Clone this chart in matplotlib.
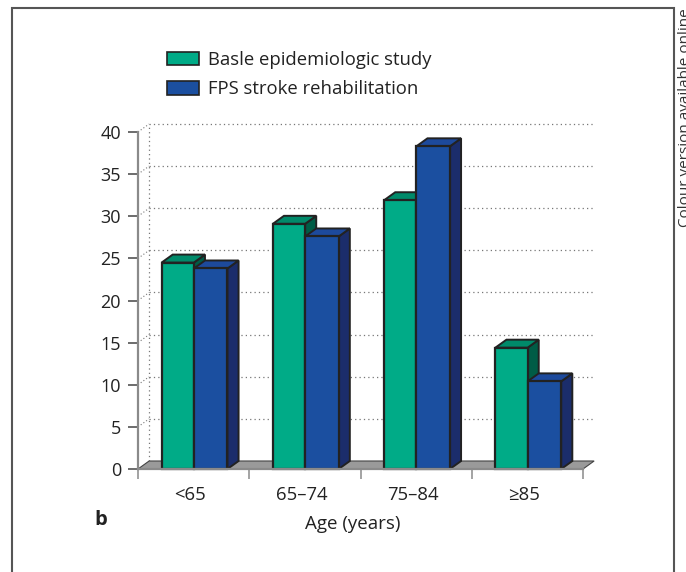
import matplotlib
matplotlib.use("Agg")
import matplotlib.pyplot as plt
from matplotlib.patches import Patch, Rectangle

# data
age_groups = ["<65", "65\u201374", "75\u201384", "\u226585"]
basle = [24.5, 29.1, 31.9, 14.4]
fps = [23.8, 27.6, 38.3, 10.4]
series_names = ["Basle epidemiologic study", "FPS stroke rehabilitation"]
y_ticks = [0, 5, 10, 15, 20, 25, 30, 35, 40]

# faces: front, top, side
GREEN = ("#00AB87", "#008A6A", "#005C46")
BLUE = ("#1B4FA0", "#1D4A9C", "#1B2D6B")
EDGE = "#222222"

plt.rcParams["font.family"] = ["Open Sans", "DejaVu Sans"]

W, H = 686, 572
fig = plt.figure(figsize=(W / 100, H / 100), dpi=100)
ax = fig.add_axes([138 / W, 1 - 469 / H, (583 - 138) / W, (469 - 132) / H])
ax.set_xlim(0, 4)
ax.set_ylim(0, 40)

# depth of the pseudo-3D box in data units
dx, dy = 0.1, 0.95
ymax = y_ticks[-1]
ncat = len(age_groups)

# back wall grid
for v in y_ticks[1:]:
    ax.plot([dx, ncat + dx], [v + dy, v + dy], ls=(0, (1, 2.5)), color="#777777",
            lw=0.9, clip_on=False, zorder=1)
    ax.plot([0, dx], [v, v + dy], ls=(0, (1, 2)), color="#777777", lw=0.8,
            clip_on=False, zorder=1)
ax.plot([dx, dx], [dy, ymax + dy], ls=(0, (1, 2.5)), color="#777777", lw=0.9,
        clip_on=False, zorder=1)

# floor
ax.fill([0, ncat, ncat + dx, dx], [0, 0, dy, dy], facecolor="#9A9A9A",
        edgecolor="#444444", lw=0.8, clip_on=False, zorder=2)


def draw_bar(x0, w, h, faces, z):
    front, top, side = faces
    x1 = x0 + w
    ax.fill([x1, x1 + dx, x1 + dx, x1], [0, dy, h + dy, h], facecolor=side,
            edgecolor=EDGE, lw=1.4, clip_on=False, zorder=z)
    ax.fill([x0, x1, x1 + dx, x0 + dx], [h, h, h + dy, h + dy], facecolor=top,
            edgecolor=EDGE, lw=1.4, clip_on=False, zorder=z)
    ax.bar(x0, h, width=w, align="edge", color=front, edgecolor=EDGE, lw=1.6,
           clip_on=False, zorder=z)


bw = 0.29
for i in range(ncat):
    draw_bar(i + 0.212, bw, basle[i], GREEN, 3 + 2 * i)
    draw_bar(i + 0.212 + bw, bw + 0.012, fps[i], BLUE, 4 + 2 * i)

# axes styling
for s in ("top", "right"):
    ax.spines[s].set_visible(False)
ax.spines["left"].set_color("#8A8A8A")
ax.spines["left"].set_linewidth(1.6)
ax.spines["bottom"].set_color("#8A8A8A")
ax.spines["bottom"].set_linewidth(1.6)
ax.spines["bottom"].set_zorder(20)

ax.set_yticks(y_ticks)
ax.tick_params(axis="y", length=7.2, width=1.1, color="#444444", pad=5,
               labelsize=13, labelcolor="#222222")
ax.set_xticks(range(ncat + 1))
ax.set_xticklabels([])
ax.tick_params(axis="x", which="major", direction="out", length=7.2, width=1.1,
               color="#8A8A8A")
ax.set_xticks([i + 0.47 for i in range(ncat)], minor=True)
ax.set_xticklabels(age_groups, minor=True)
ax.tick_params(axis="x", which="minor", length=0, pad=12, labelsize=13.3,
               labelcolor="#222222")

ax.text(1.93, -6.5, "Age (years)", fontsize=13.5, color="#222222",
        ha="center", va="center")
ax.text(-0.083, -0.151, "b", transform=ax.transAxes, fontsize=14.5,
        fontweight="bold", color="#222222", va="center", ha="center")

# legend
handles = [Patch(facecolor=GREEN[0], edgecolor=EDGE, lw=1.2),
           Patch(facecolor=BLUE[0], edgecolor=EDGE, lw=1.2)]
fig.legend(handles, series_names, loc="upper left",
           bbox_to_anchor=(167 / W, 1 - 51 / H), frameon=False, fontsize=13.3,
           handlelength=1.75, handleheight=0.75, handletextpad=0.45,
           labelspacing=0.62, borderpad=0, borderaxespad=0,
           labelcolor="#222222")

# panel frame
fig.patches.append(Rectangle((12 / W, -0.05), (674 - 12) / W, 1 - 8 / H + 0.05,
                             transform=fig.transFigure, fill=False,
                             edgecolor="#555555", lw=1.5))
fig.text(678 / W, 1 - 227 / H, "Colour version available online",
         rotation=90, ha="left", va="bottom", fontsize=11, color="#333333")

fig.savefig("out.png", dpi=100)
